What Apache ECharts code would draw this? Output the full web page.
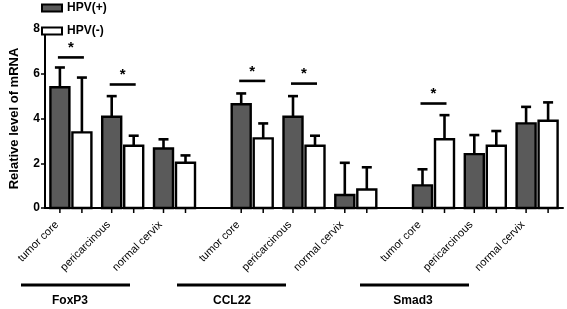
<!DOCTYPE html>
<html>
<head>
<meta charset="utf-8">
<title>mRNA</title>
<script src="https://cdn.jsdelivr.net/npm/echarts@6/dist/echarts.min.js"></script>
<style>
  html, body { margin: 0; padding: 0; background: #fff; }
  #main { width: 567px; height: 309px; }
</style>
</head>
<body>
<div id="main"></div>
<script>
// genes and sample sites
var genes = ['FoxP3', 'CCL22', 'Smad3'];
var sites = ['tumor core', 'pericarcinous', 'normal cervix'];

// mean and SD (upper error bar), order: FoxP3 x3, CCL22 x3, Smad3 x3
var hpvPosMean = [5.40, 4.08, 2.66, 4.64, 4.08, 0.58, 1.01, 2.41, 3.78];
var hpvPosSd   = [0.88, 0.92, 0.41, 0.48, 0.92, 1.44, 0.72, 0.85, 0.74];
var hpvNegMean = [3.38, 2.78, 2.02, 3.11, 2.78, 0.83, 3.07, 2.78, 3.90];
var hpvNegSd   = [2.45, 0.45, 0.33, 0.67, 0.45, 0.99, 1.08, 0.66, 0.82];

// significance marks: [index in the lists above, height of the bar]
var sigMarks = [[0, 6.73], [1, 5.52], [3, 5.68], [4, 5.56], [6, 4.67]];

// x position of a category: 1 unit per site, 1.5 units between genes
function catPos(i) {
  var g = Math.floor(i / 3), k = i % 3;
  return 1 + g * 3.5 + k;
}

// labels sit a little left of the category centre, as in the original
var LABEL_SHIFT = 0.27;
var labelAt = {};
var labelPos = [];
for (var i = 0; i < 9; i++) {
  var lp = +(catPos(i) - LABEL_SHIFT).toFixed(2);
  labelPos.push(lp);
  labelAt[lp] = sites[i % 3];
}

function barData(mean, sd) {
  var out = [];
  for (var i = 0; i < mean.length; i++) out.push([catPos(i), mean[i], sd[i]]);
  return out;
}

var sigData = sigMarks.map(function (s) { return [catPos(s[0]), s[1]]; });

var BAR_W = 19, HALF_GAP = 11;

function barRender(dx, fill) {
  return function (params, api) {
    var x = api.value(0), m = api.value(1), s = api.value(2);
    var base = api.coord([x, 0]);
    var top = api.coord([x, m]);
    var err = api.coord([x, m + s]);
    var cx = base[0] + dx;
    return {
      type: 'group',
      children: [
        { type: 'line', shape: { x1: cx, y1: top[1], x2: cx, y2: err[1] },
          style: { stroke: '#000', lineWidth: 2.6 } },
        { type: 'line', shape: { x1: cx - 5, y1: err[1], x2: cx + 5, y2: err[1] },
          style: { stroke: '#000', lineWidth: 2.6 } },
        { type: 'rect', shape: { x: cx - BAR_W / 2, y: top[1], width: BAR_W, height: base[1] - top[1] },
          style: { fill: fill, stroke: '#000', lineWidth: 2.4 } },
        { type: 'line', shape: { x1: cx, y1: base[1], x2: cx, y2: base[1] + 5 },
          style: { stroke: '#000', lineWidth: 1.5 } }
      ]
    };
  };
}

function sigRender(params, api) {
  var p = api.coord([api.value(0), api.value(1)]);
  return {
    type: 'group',
    children: [
      { type: 'line', shape: { x1: p[0] - 13, y1: p[1], x2: p[0] + 13, y2: p[1] },
        style: { stroke: '#000', lineWidth: 2.6 } },
      { type: 'text', x: p[0], y: p[1] - 2,
        style: { text: '*', fill: '#000', align: 'center', verticalAlign: 'bottom',
                 font: 'bold 15px "Liberation Sans", Arial, sans-serif' } }
    ]
  };
}

var FONT = '"Liberation Sans", Arial, sans-serif';
var chart = echarts.init(document.getElementById('main'));

var option = {
  animation: false,
  backgroundColor: '#fff',
  grid: { left: 33, right: 4, top: 29, bottom: 101, containLabel: false },
  legend: {
    orient: 'vertical', left: 36, top: -3,
    itemWidth: 20, itemHeight: 7, itemGap: 11,
    icon: 'rect',
    textStyle: { fontFamily: FONT, fontWeight: 'bold', fontSize: 12, color: '#000' },
    data: [
      { name: 'HPV(+)', itemStyle: { color: '#5a5a5a', borderColor: '#000', borderWidth: 2 } },
      { name: 'HPV(-)', itemStyle: { color: '#fff', borderColor: '#000', borderWidth: 2 } }
    ]
  },
  xAxis: {
    type: 'value', min: 0.5, max: 10.5,
    splitLine: { show: false },
    axisLine: { show: true, onZero: false, lineStyle: { color: '#000', width: 2 } },
    axisTick: { show: false },
    axisLabel: {
      customValues: labelPos,
      rotate: 45, margin: 15,
      fontFamily: FONT, fontSize: 11, color: '#000',
      formatter: function (v) { return labelAt[+(+v).toFixed(2)] || ''; }
    }
  },
  yAxis: {
    type: 'value', min: 0, max: 8, interval: 2,
    name: 'Relative level of mRNA',
    nameLocation: 'middle', nameGap: 24,
    nameTextStyle: { fontFamily: FONT, fontWeight: 'bold', fontSize: 13, color: '#000' },
    splitLine: { show: false },
    axisLine: { show: true, lineStyle: { color: '#000', width: 2 } },
    axisTick: { show: true, length: 4, lineStyle: { color: '#000', width: 1.5 } },
    axisLabel: { margin: 5, fontFamily: FONT, fontWeight: 'bold', fontSize: 12, color: '#000' }
  },
  series: [
    { name: 'HPV(+)', type: 'custom', renderItem: barRender(-HALF_GAP, '#5a5a5a'),
      itemStyle: { color: '#5a5a5a' }, data: barData(hpvPosMean, hpvPosSd), z: 3 },
    { name: 'HPV(-)', type: 'custom', renderItem: barRender(HALF_GAP, '#fff'),
      itemStyle: { color: '#fff' }, data: barData(hpvNegMean, hpvNegSd), z: 3 },
    { name: 'sig', type: 'custom', renderItem: sigRender, data: sigData, z: 4 }
  ],
  graphic: [
    { type: 'line', shape: { x1: 21, y1: 285, x2: 130, y2: 285 }, style: { stroke: '#000', lineWidth: 3 } },
    { type: 'line', shape: { x1: 177, y1: 285, x2: 286, y2: 285 }, style: { stroke: '#000', lineWidth: 3 } },
    { type: 'line', shape: { x1: 360, y1: 285, x2: 469, y2: 285 }, style: { stroke: '#000', lineWidth: 3 } },
    { type: 'text', x: 70, y: 301, style: { text: genes[0], align: 'center', verticalAlign: 'middle', fill: '#000', font: 'bold 12px ' + FONT } },
    { type: 'text', x: 232, y: 301, style: { text: genes[1], align: 'center', verticalAlign: 'middle', fill: '#000', font: 'bold 12px ' + FONT } },
    { type: 'text', x: 413, y: 301, style: { text: genes[2], align: 'center', verticalAlign: 'middle', fill: '#000', font: 'bold 12px ' + FONT } }
  ]
};

chart.setOption(option);
</script>
</body>
</html>
